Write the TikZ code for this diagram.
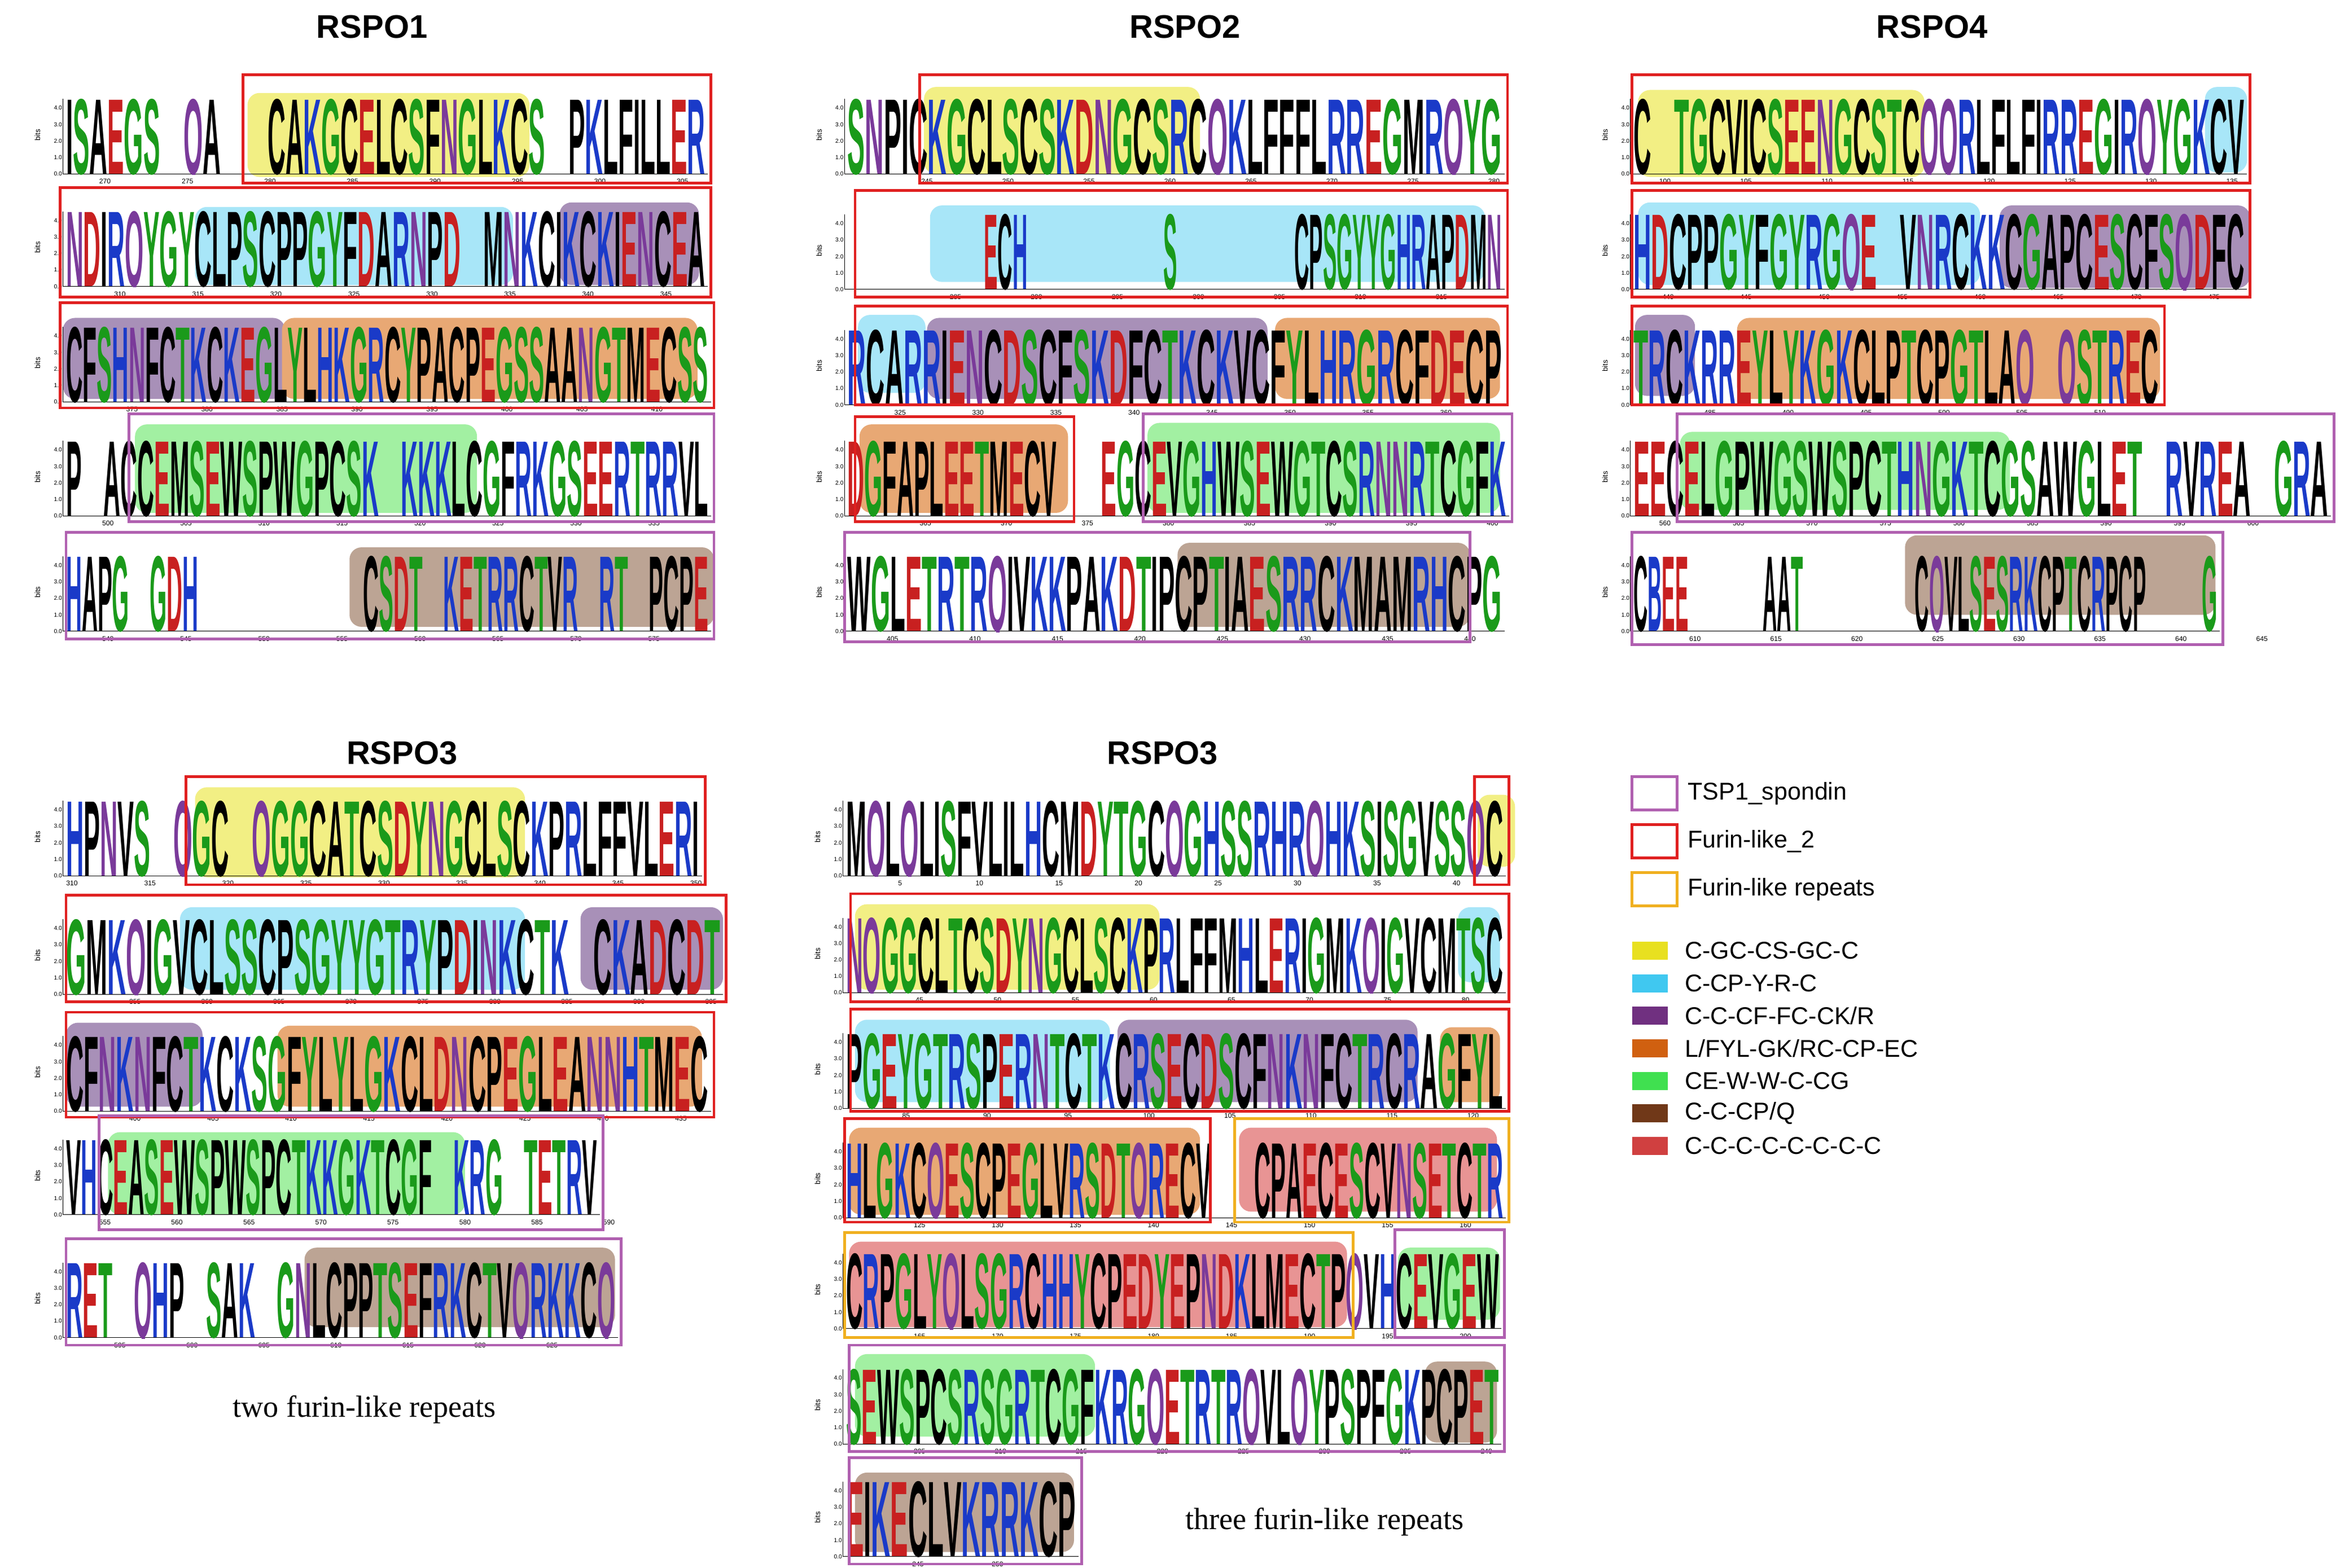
\documentclass[tikz,border=0pt]{standalone}
\usepackage{fontspec}
\setmainfont{Liberation Sans}
\newfontfamily\capfont{Liberation Serif}
\usepackage{graphicx}
\definecolor{aaG}{HTML}{1A9A1A}\colorlet{aaS}{aaG}\colorlet{aaT}{aaG}\colorlet{aaY}{aaG}
\colorlet{aaC}{black}
\definecolor{aaQ}{HTML}{7A3A9A}\colorlet{aaN}{aaQ}
\definecolor{aaK}{HTML}{1A3AC8}\colorlet{aaR}{aaK}\colorlet{aaH}{aaK}\colorlet{aaB}{aaK}
\definecolor{aaD}{HTML}{C82020}\colorlet{aaE}{aaD}
\colorlet{aaA}{black}\colorlet{aaV}{black}\colorlet{aaL}{black}\colorlet{aaI}{black}
\colorlet{aaP}{black}\colorlet{aaW}{black}\colorlet{aaF}{black}\colorlet{aaM}{black}
\definecolor{hY}{HTML}{F2EF84}\definecolor{hC}{HTML}{A8E6F8}\definecolor{hP}{HTML}{A890B8}
\definecolor{hO}{HTML}{E8A874}\definecolor{hG}{HTML}{A2F0A2}\definecolor{hB}{HTML}{BCA494}
\definecolor{hS}{HTML}{E89494}
\definecolor{sY}{HTML}{E8E020}\definecolor{sC}{HTML}{40C8F0}\definecolor{sP}{HTML}{703080}
\definecolor{sO}{HTML}{D06010}\definecolor{sG}{HTML}{40E050}\definecolor{sB}{HTML}{703818}
\definecolor{sR}{HTML}{D04040}
\definecolor{fR}{HTML}{E02020}\definecolor{fP}{HTML}{B060B0}\definecolor{fO}{HTML}{F0B020}
\def\lg#1{\lgi#1\relax}
\def\lgi#1{\ifx#1\relax\else\lgc#1\expandafter\lgi\fi}
\def\lgc#1{\ifx#1.\phantom{W}\else\textcolor{aa#1}{#1}\fi}
\newcommand\lrow[8]{%
 \pgfmathsetmacro\yb{#2+66}%
 \node[rotate=90,font=\fontsize{14}{14}\selectfont] at (#1-17,#2+40) {bits};
 \foreach \t/\v in {4.0/44,3.0/33,2.0/22,1.0/11,0.0/0}
   \node[anchor=east,inner sep=0.6mm,font=\fontsize{11}{11}\selectfont] at (#1,\yb-\v) {\t};
 \draw[line width=0.4mm] (#1,#2+16) -- (#1,\yb) -- (#3,\yb);
 \pgfmathsetmacro\lw{#3-#1-4}%
 \begin{scope}
 \clip (#1,#2) rectangle (#3,\yb+0.5);
 \node[anchor=base west,inner sep=0] at (#1+2,\yb) {\resizebox{\lw mm}{50mm}{\bfseries\lg{#4}}};
 \end{scope}
 \foreach \i in {1,...,#8}{\pgfmathtruncatemacro\nn{#5+5*(\i-1)}
   \node[font=\fontsize{13}{13}\selectfont] at (#6+#7*\i-#7,\yb+5) {\nn};}
}
\tikzset{fr/.style={draw=fR,line width=1.8mm},fp/.style={draw=fP,line width=1.8mm},
 fo/.style={draw=fO,line width=1.8mm},hl/.style={rounded corners=8mm},
 ttl/.style={font=\bfseries\fontsize{62}{64}\selectfont},
 leg/.style={anchor=west,font=\fontsize{46}{48}\selectfont},
 captxt/.style={font=\capfont\fontsize{58}{60}\selectfont}}
\begin{document}
\begin{tikzpicture}[x=1mm,y=-1mm]
\useasboundingbox (0,0) rectangle (1560,1045.6);
\fill[white] (0,0) rectangle (1560,1045.6);
% highlights
\fill[hY,hl] (165,62) rectangle (353,118);
\fill[hC,hl] (130,138) rectangle (342,190); \fill[hP,hl] (373,135) rectangle (466,190);
\fill[hP,hl] (42,212) rectangle (190,266); \fill[hO,hl] (188,212) rectangle (465,266);
\fill[hG,hl] (90,283) rectangle (318,342);
\fill[hB,hl] (233,365) rectangle (476,418);
\fill[hY,hl] (616,58) rectangle (800,116);
\fill[hC,hl] (620,137) rectangle (990,188);
\fill[hC,hl] (572,210) rectangle (617,262); \fill[hP,hl] (618,212) rectangle (845,266); \fill[hO,hl] (850,212) rectangle (1000,266);
\fill[hO,hl] (573,283) rectangle (712,342); \fill[hG,hl] (765,282) rectangle (1000,342);
\fill[hB,hl] (785,362) rectangle (980,418);
\fill[hY,hl] (1092,60) rectangle (1283,118); \fill[hC,hl] (1470,58) rectangle (1498,115);
\fill[hC,hl] (1092,135) rectangle (1320,190); \fill[hP,hl] (1333,137) rectangle (1500,192);
\fill[hP,hl] (1090,210) rectangle (1130,264); \fill[hO,hl] (1158,212) rectangle (1440,266);
\fill[hG,hl] (1120,288) rectangle (1340,340);
\fill[hB,hl] (1270,357) rectangle (1477,410);
\fill[hY,hl] (130,525) rectangle (350,585);
\fill[hC,hl] (120,605) rectangle (350,660); \fill[hP,hl] (387,605) rectangle (482,660);
\fill[hP,hl] (44,682) rectangle (135,738); \fill[hO,hl] (185,684) rectangle (468,738);
\fill[hG,hl] (72,755) rectangle (310,810);
\fill[hB,hl] (203,832) rectangle (410,885);
\fill[hY,hl] (985,530) rectangle (1010,578);
\fill[hY,hl] (570,603) rectangle (773,660); \fill[hC,hl] (972,605) rectangle (1000,655);
\fill[hC,hl] (570,680) rectangle (740,735); \fill[hP,hl] (745,680) rectangle (945,735); \fill[hO,hl] (960,685) rectangle (1000,735);
\fill[hO,hl] (566,752) rectangle (800,810); \fill[hS,hl] (826,752) rectangle (998,808);
\fill[hS,hl] (566,828) rectangle (898,885); \fill[hG,hl] (932,832) rectangle (1000,880);
\fill[hG,hl] (570,903) rectangle (730,958); \fill[hB,hl] (950,908) rectangle (998,962);
\fill[hB,hl] (570,982) rectangle (716,1035);
% titles
\node[ttl] (t1) at (248,18) {RSPO1};
\node[ttl] (t2) at (790,18) {RSPO2};
\node[ttl] (t4) at (1288,18) {RSPO4};
\node[ttl] (t3a) at (268,502) {RSPO3};
\node[ttl] (t3b) at (775,502) {RSPO3};
% RSPO1
\lrow{42}{50}{472}{ISAEGS.QA..CAKGCELCSFNGLKCS.PKLFILLER}{270}{70}{55}{8}
\lrow{42}{125}{472}{NDIRQYGYCLPSCPPGYFDARNPD.MNKCIKCKIENCEA}{310}{80}{52}{8}
\lrow{42}{202}{474}{CFSHNFCTKCKEGLYLHKGRCYPACPEGSSAANGTMECSS}{375}{88}{50}{8}
\lrow{42}{278}{474}{P.ACCEMSEWSPWGPCSK.KKKLCGFRKGSEERTRRVL}{500}{72}{52}{8}
\lrow{42}{355}{474}{HAPG.GDH........CSDT.KETRRCTVR.RT.PCPE}{540}{72}{52}{8}
% RSPO2
\lrow{563}{50}{1003}{SNPICKGCLSCSKDNGCSRCQKLFFFLRREGMRQYG}{245}{618}{54}{8}
\lrow{563}{127}{1003}{.......ECH.......S......CPSGYYGHRAPDMN}{285}{637}{54}{7}
\lrow{563}{204}{1003}{RCARRIENCDSCFSKDFCTKCKVCFYLHRGRCFDECP}{325}{600}{52}{8}
\lrow{563}{278}{1006}{DGFAPLEETMECV..EGCEVGHWSEWGTCSRNNRTCGFK}{365}{617}{54}{8}
\lrow{563}{355}{1003}{WGLETRTRQIVKKPAKDTIPCPTIAESRRCKMAMRHCPG}{405}{595}{55}{8}
% RSPO4
\lrow{1087}{50}{1498}{C.TGCVICSEENGCSTCQQRLFLFIRREGIRQYGKCV}{100}{1110}{54}{8}
\lrow{1087}{127}{1498}{HDCPPGYFGYRGQE.VNRCKKCGAPCESCFSQDFC}{440}{1112}{52}{8}
\lrow{1087}{204}{1441}{TRCKRREYLYKGKCLPTCPGTLAQ.QSTREC}{485}{1140}{52}{6}
\lrow{1087}{278}{1554}{EECELGPWGSWSPCTHNGKTCGSAWGLET.RVREA.GRA}{560}{1110}{49}{9}
\lrow{1087}{355}{1480}{CBEE....AAT......CQVLSESRKCPTCRPCP...G}{610}{1130}{54}{8}
% RSPO3 left
\lrow{42}{518}{468}{HPNVS.QGC.QGGCATCSDYNGCLSCKPRLFFVLERI}{310}{48}{52}{9}
\lrow{42}{597}{482}{GMKQIGVCLSSCPSGYYGTRYPDINKCTK.CKADCDT}{355}{90}{48}{9}
\lrow{42}{675}{474}{CFNKNFCTKCKSGFYLYLGKCLDNCPEGLEANNHTMEC}{400}{90}{52}{8}
\lrow{42}{744}{400}{VHCEASEWSPWSPCTKKGKTCGF.KRG.TETRV}{555}{70}{48}{8}
\lrow{42}{826}{412}{RET.QHP.SAK.GNLCPPTSEFRKCTVQRKKCQ}{595}{80}{48}{7}
% RSPO3 right
\lrow{562}{518}{1004}{MQLQLISFVLILHCMDYTGCQGHSSRHRQHKSISGVSSQC}{5}{600}{53}{8}
\lrow{562}{596}{1004}{NQGGCLTCSDYNGCLSCKPRLFFMHLERIGMKQIGVCMTSC}{45}{613}{52}{8}
\lrow{562}{673}{1004}{PGEYGTRSPERNTCTKCRSECDSCFNKNFCTRCRAGFYL}{85}{604}{54}{8}
\lrow{562}{746}{1004}{HLGKCQESCPEGLVRSDTQRECV..CPAECESCVNSETCTR}{125}{613}{52}{8}
\lrow{562}{820}{1001}{CRPGLYQLSGRCHHYCPEDYEPNDKLMECTPQVHCEVGEW}{165}{613}{52}{8}
\lrow{562}{897}{1001}{SEWSPCSRSGRTCGFKRGQETRTRQVLQYPSPFGKPCPET}{205}{613}{54}{8}
\lrow{562}{972}{719}{EIKECLVKRRKCP}{245}{612}{53}{2}
% frames
\draw[fr] (162,50) rectangle (474,122);
\draw[fr] (40,125) rectangle (474,198);
\draw[fr] (40,202) rectangle (476,272);
\draw[fp] (86,276) rectangle (476,348);
\draw[fp] (44,355) rectangle (476,426);
\draw[fr] (613,50) rectangle (1005,122);
\draw[fr] (570,127) rectangle (1005,198);
\draw[fr] (570,204) rectangle (1005,270);
\draw[fr] (570,278) rectangle (716,348);
\draw[fp] (762,276) rectangle (1008,348);
\draw[fp] (563,355) rectangle (980,428);
\draw[fr] (1088,50) rectangle (1500,122);
\draw[fr] (1088,127) rectangle (1500,198);
\draw[fr] (1088,204) rectangle (1443,270);
\draw[fp] (1118,276) rectangle (1556,348);
\draw[fp] (1088,355) rectangle (1482,430);
\draw[fr] (124,518) rectangle (470,590);
\draw[fr] (44,597) rectangle (484,668);
\draw[fr] (44,675) rectangle (476,745);
\draw[fp] (66,744) rectangle (402,820);
\draw[fp] (44,826) rectangle (414,897);
\draw[fr] (983,518) rectangle (1006,590);
\draw[fr] (567,596) rectangle (1006,668);
\draw[fr] (567,673) rectangle (1006,741);
\draw[fr] (563,746) rectangle (807,815);
\draw[fo] (823,746) rectangle (1006,815);
\draw[fo] (563,822) rectangle (902,892);
\draw[fp] (930,820) rectangle (1003,892);
\draw[fp] (566,897) rectangle (1003,968);
\draw[fp] (566,972) rectangle (721,1043);
% captions
\node[captxt] (c1) at (243,940) {two furin-like repeats};
\node[captxt] (c2) at (883,1015) {three furin-like repeats};
% legend
\draw[fp] (1088,518) rectangle (1118,540); \node[leg] (l1) at (1124,529) {TSP1\_spondin};
\draw[fr] (1088,550) rectangle (1118,572); \node[leg] (l2) at (1124,561) {Furin-like\_2};
\draw[fo] (1088,582) rectangle (1118,604); \node[leg] (l3) at (1124,593) {Furin-like repeats};
\foreach \c/\t [count=\k from 0] in {sY/{C-GC-CS-GC-C},sC/{C-CP-Y-R-C},sP/{C-C-CF-FC-CK/R},sO/{L/FYL-GK/RC-CP-EC},sG/{CE-W-W-C-CG},sB/{C-C-CP/Q},sR/{C-C-C-C-C-C-C-C}}{
  \fill[\c] (1088,628+21.7*\k) rectangle (1112,640+21.7*\k);
  \node[leg] at (1122,634+21.7*\k) {\t};}
\end{tikzpicture}
\end{document}
